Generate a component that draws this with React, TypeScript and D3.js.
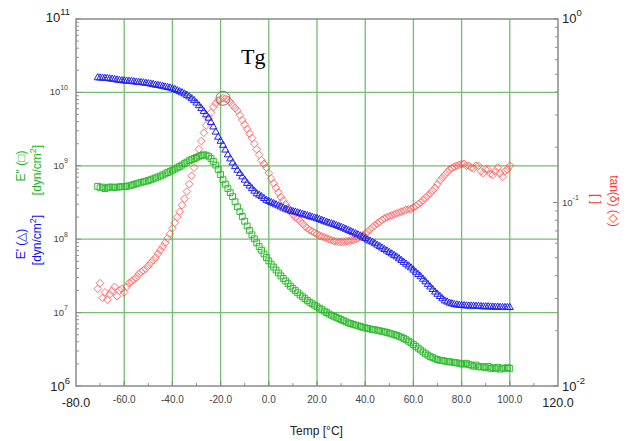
import React from "react";
import * as d3 from "d3";

const W = 626;
const H = 441;

// Temperature samples [°C]
const temps = [
  -71, -70, -69, -68, -67, -66, -65, -64, -63, -62,
  -61, -60, -59, -58, -57, -56, -55, -54, -53, -52,
  -51, -50, -49, -48, -47, -46, -45, -44, -43, -42,
  -41, -40, -39, -38, -37, -36, -35, -34, -33, -32,
  -31, -30, -29, -28, -27, -26, -25, -24, -23, -22,
  -21, -20, -19, -18, -17, -16, -15, -14, -13, -12,
  -11, -10, -9, -8, -7, -6, -5, -4, -3, -2,
  -1, 0, 1, 2, 3, 4, 5, 6, 7, 8,
  9, 10, 11, 12, 13, 14, 15, 16, 17, 18,
  19, 20, 21, 22, 23, 24, 25, 26, 27, 28,
  29, 30, 31, 32, 33, 34, 35, 36, 37, 38,
  39, 40, 41, 42, 43, 44, 45, 46, 47, 48,
  49, 50, 51, 52, 53, 54, 55, 56, 57, 58,
  59, 60, 61, 62, 63, 64, 65, 66, 67, 68,
  69, 70, 71, 72, 73, 74, 75, 76, 77, 78,
  79, 80, 81, 82, 83, 84, 85, 86, 87, 88,
  89, 90, 91, 92, 93, 94, 95, 96, 97, 98,
  99, 100,
];

// log10 of E' storage modulus [dyn/cm2] (triangles, blue)
const storageModulusLog = [
  10.2, 10.197, 10.195, 10.192, 10.19, 10.185, 10.18, 10.175, 10.17, 10.165,
  10.16, 10.158, 10.155, 10.152, 10.15, 10.145, 10.14, 10.137, 10.135, 10.13,
  10.125, 10.12, 10.115, 10.108, 10.1, 10.095, 10.09, 10.083, 10.075, 10.068,
  10.06, 10.05, 10.04, 10.025, 10.01, 9.995, 9.98, 9.96, 9.94, 9.915,
  9.89, 9.855, 9.82, 9.78, 9.74, 9.695, 9.65, 9.59, 9.53, 9.46,
  9.39, 9.335, 9.28, 9.215, 9.15, 9.095, 9.04, 8.99, 8.94, 8.895,
  8.85, 8.805, 8.76, 8.725, 8.69, 8.655, 8.62, 8.6, 8.58, 8.555,
  8.53, 8.515, 8.5, 8.485, 8.47, 8.455, 8.44, 8.425, 8.41, 8.397,
  8.385, 8.377, 8.37, 8.36, 8.35, 8.34, 8.33, 8.32, 8.31, 8.3,
  8.29, 8.28, 8.27, 8.257, 8.245, 8.232, 8.22, 8.21, 8.2, 8.187,
  8.175, 8.162, 8.15, 8.135, 8.12, 8.105, 8.09, 8.075, 8.06, 8.045,
  8.03, 8.01, 7.99, 7.975, 7.96, 7.94, 7.92, 7.9, 7.88, 7.86,
  7.84, 7.82, 7.8, 7.78, 7.76, 7.735, 7.71, 7.685, 7.66, 7.635,
  7.61, 7.58, 7.55, 7.52, 7.49, 7.455, 7.42, 7.385, 7.35, 7.315,
  7.28, 7.25, 7.22, 7.19, 7.16, 7.145, 7.13, 7.12, 7.11, 7.105,
  7.1, 7.097, 7.095, 7.092, 7.09, 7.09, 7.09, 7.087, 7.085, 7.082,
  7.08, 7.08, 7.08, 7.077, 7.075, 7.075, 7.075, 7.072, 7.07, 7.07,
  7.07, 7.07,
];

// log10 of E'' loss modulus [dyn/cm2] (squares, green)
const lossModulusLog = [
  8.72, 8.7, 8.71, 8.69, 8.7, 8.71, 8.71, 8.705, 8.71, 8.712,
  8.715, 8.717, 8.72, 8.727, 8.735, 8.745, 8.755, 8.765, 8.775, 8.782,
  8.79, 8.8, 8.81, 8.822, 8.835, 8.847, 8.86, 8.875, 8.89, 8.907,
  8.925, 8.94, 8.955, 8.972, 8.99, 9.01, 9.03, 9.05, 9.07, 9.085,
  9.1, 9.115, 9.13, 9.14, 9.15, 9.145, 9.13, 9.1, 9.06, 9.01,
  8.95, 8.88, 8.81, 8.75, 8.69, 8.635, 8.58, 8.51, 8.44, 8.375,
  8.31, 8.245, 8.18, 8.12, 8.06, 8.005, 7.95, 7.9, 7.85, 7.8,
  7.75, 7.705, 7.66, 7.62, 7.58, 7.54, 7.5, 7.465, 7.43, 7.395,
  7.36, 7.33, 7.3, 7.27, 7.24, 7.215, 7.19, 7.165, 7.14, 7.12,
  7.1, 7.08, 7.06, 7.04, 7.02, 7.0, 6.98, 6.965, 6.95, 6.935,
  6.92, 6.905, 6.89, 6.875, 6.86, 6.85, 6.84, 6.83, 6.82, 6.81,
  6.8, 6.792, 6.785, 6.777, 6.77, 6.765, 6.76, 6.752, 6.745, 6.737,
  6.73, 6.72, 6.71, 6.7, 6.69, 6.677, 6.665, 6.648, 6.63, 6.61,
  6.59, 6.565, 6.54, 6.515, 6.49, 6.465, 6.44, 6.42, 6.4, 6.385,
  6.37, 6.36, 6.35, 6.345, 6.34, 6.335, 6.33, 6.325, 6.32, 6.315,
  6.31, 6.3, 6.3, 6.31, 6.29, 6.285, 6.27, 6.285, 6.26, 6.265,
  6.26, 6.25, 6.265, 6.24, 6.25, 6.235, 6.255, 6.23, 6.245, 6.24,
  6.25, 6.24,
];

// log10 of tan(delta) (diamonds, red)
const tanDeltaLog = [
  -1.47, -1.44, -1.52, -1.49, -1.53, -1.5, -1.48, -1.46, -1.51, -1.48,
  -1.47, -1.49, -1.46, -1.44, -1.43, -1.42, -1.41, -1.39, -1.38, -1.37,
  -1.36, -1.345, -1.33, -1.315, -1.3, -1.28, -1.26, -1.24, -1.22, -1.195,
  -1.17, -1.14, -1.11, -1.08, -1.05, -1.015, -0.98, -0.94, -0.9, -0.855,
  -0.81, -0.76, -0.71, -0.665, -0.62, -0.58, -0.54, -0.51, -0.48, -0.46,
  -0.445, -0.437, -0.432, -0.434, -0.44, -0.453, -0.47, -0.485, -0.5, -0.525,
  -0.55, -0.575, -0.6, -0.625, -0.65, -0.68, -0.71, -0.74, -0.77, -0.79,
  -0.81, -0.84, -0.87, -0.895, -0.92, -0.945, -0.97, -0.99, -1.01, -1.03,
  -1.05, -1.065, -1.08, -1.09, -1.1, -1.115, -1.13, -1.14, -1.15, -1.157,
  -1.165, -1.172, -1.18, -1.185, -1.19, -1.195, -1.2, -1.205, -1.21, -1.212,
  -1.215, -1.215, -1.215, -1.212, -1.21, -1.207, -1.205, -1.2, -1.195, -1.187,
  -1.18, -1.17, -1.16, -1.147, -1.135, -1.125, -1.115, -1.105, -1.095, -1.087,
  -1.08, -1.075, -1.07, -1.065, -1.06, -1.055, -1.05, -1.045, -1.04, -1.037,
  -1.035, -1.027, -1.02, -1.01, -1.0, -0.987, -0.975, -0.962, -0.95, -0.935,
  -0.92, -0.9, -0.88, -0.865, -0.85, -0.835, -0.82, -0.812, -0.805, -0.8,
  -0.795, -0.79, -0.79, -0.8, -0.8, -0.81, -0.815, -0.8, -0.8, -0.83,
  -0.84, -0.82, -0.82, -0.845, -0.85, -0.83, -0.81, -0.84, -0.86, -0.83,
  -0.82, -0.8,
];

const xTicks = [-80, -60, -40, -20, 0, 20, 40, 60, 80, 100, 120];
const xTickLabels = ["-80.0", "-60.0", "-40.0", "-20.0", "0.0", "20.0", "40.0", "60.0", "80.0", "100.0", "120.0"];
const leftExponents = [6, 7, 8, 9, 10, 11];
const rightExponents = [-2, -1, 0];
const tgTemp = -19;
const tgValueLog = -0.432;

const FONT = "Arial, 'Liberation Sans', Helvetica, sans-serif";
const GRID = "#72bf72";
const FRAME = "#8a8a8a";
const BLUE = "#0c0cf0";
const GREEN = "#1ab41a";
const RED = "#ff3a3a";

export default function App() {
  const L = 76, R = 558, T = 19, B = 386;
  const x = d3.scaleLinear().domain([-80, 120]).range([L, R]);
  const yL = d3.scaleLog().domain([1e6, 1e11]).range([B, T]);
  const yR = d3.scaleLog().domain([0.01, 1]).range([B, T]);
  const p10 = (v: number) => Math.pow(10, v);

  const tri = d3.symbol().type(d3.symbolTriangle).size(22)()!;
  const sq = d3.symbol().type(d3.symbolSquare).size(34)()!;
  const dia = d3.symbol().type(d3.symbolSquare).size(30)()!;

  const leftMinor: number[] = [];
  for (let e = 6; e < 11; e++) for (let m = 2; m <= 9; m++) leftMinor.push(m * Math.pow(10, e));
  const rightMinor: number[] = [];
  for (let e = -2; e < 0; e++) for (let m = 2; m <= 9; m++) rightMinor.push(m * Math.pow(10, e));
  const xMinor = [-70, -50, -30, -10, 10, 30, 50, 70, 90, 110];

  return (
    <svg width={W} height={H} style={{ position: "absolute", left: 0, top: 0, background: "#fff" }} fontFamily={FONT}>
      {/* grid */}
      {xTicks.slice(1, -1).map((t) => (
        <line key={"gx" + t} x1={x(t)} x2={x(t)} y1={T} y2={B} stroke={GRID} strokeWidth={1.3} />
      ))}
      {leftExponents.slice(1, -1).map((e) => (
        <line key={"gy" + e} x1={L} x2={R} y1={yL(p10(e))} y2={yL(p10(e))} stroke={GRID} strokeWidth={1.3} />
      ))}

      {/* series */}
      <g fill="none" stroke={RED} strokeWidth={0.85} opacity={0.78}>
        {temps.map((t, i) => (
          <path key={"r" + i} d={dia} transform={`translate(${x(t)},${yR(p10(tanDeltaLog[i]))}) rotate(45)`} />
        ))}
      </g>
      <g fill="none" stroke={GREEN} strokeWidth={1} opacity={0.9}>
        {temps.map((t, i) => (
          <path key={"g" + i} d={sq} transform={`translate(${x(t)},${yL(p10(lossModulusLog[i]))})`} />
        ))}
      </g>
      <g fill="none" stroke={BLUE} strokeWidth={1} opacity={0.9}>
        {temps.map((t, i) => (
          <path key={"b" + i} d={tri} transform={`translate(${x(t)},${yL(p10(storageModulusLog[i]))})`} />
        ))}
      </g>

      {/* Tg marker */}
      <circle cx={x(tgTemp)} cy={yR(p10(tgValueLog))} r={7} fill="none" stroke="#777" strokeWidth={1} />
      <text x={241} y={64} fontFamily="'Liberation Serif', 'Times New Roman', serif" fontSize={22} fill="#000">Tg</text>

      {/* frame */}
      <rect x={L} y={T} width={R - L} height={B - T} fill="none" stroke={FRAME} strokeWidth={1.5} />

      {/* x ticks */}
      {xTicks.slice(1, -1).map((t) => (
        <line key={"xt" + t} x1={x(t)} x2={x(t)} y1={B} y2={B - 5} stroke={FRAME} strokeWidth={1.2} />
      ))}
      {xMinor.map((t) => (
        <line key={"xm" + t} x1={x(t)} x2={x(t)} y1={B} y2={B - 3} stroke={FRAME} strokeWidth={1} />
      ))}
      {xTicks.map((t, i) => {
        const big = i === 0 || i === xTicks.length - 1;
        return (
          <text key={"xl" + t} x={x(t)} y={big ? 406.5 : 403} textAnchor="middle" fontSize={big ? 12.5 : 10} fill={big ? "#222" : "#444"}>
            {xTickLabels[i]}
          </text>
        );
      })}
      <text x={316.5} y={435} textAnchor="middle" fontSize={12} fill="#222">Temp [°C]</text>

      {/* left ticks */}
      {leftExponents.map((e) => (
        <line key={"lt" + e} x1={L} x2={L + 5} y1={yL(p10(e))} y2={yL(p10(e))} stroke={FRAME} strokeWidth={1} />
      ))}
      {leftMinor.map((v, i) => (
        <line key={"lm" + i} x1={L} x2={L + 3} y1={yL(v)} y2={yL(v)} stroke={FRAME} strokeWidth={0.9} />
      ))}
      {leftExponents.map((e, i) => {
        const big = i === 0 || i === leftExponents.length - 1;
        const yy = yL(p10(e));
        return (
          <text key={"ll" + e} x={big ? 70 : 68} y={yy + (big ? (i === 0 ? 4.5 : 3) : 3)} textAnchor="end" fontSize={big ? 13 : 9.5} fill={big ? "#222" : "#444"}>
            <tspan>10</tspan>
            <tspan dy={big ? -7 : -5.5} fontSize={big ? 9.5 : 7}>{e}</tspan>
          </text>
        );
      })}

      {/* right ticks */}
      {rightExponents.map((e) => (
        <line key={"rt" + e} x1={R - 5} x2={R} y1={yR(p10(e))} y2={yR(p10(e))} stroke={FRAME} strokeWidth={1} />
      ))}
      {rightMinor.map((v, i) => (
        <line key={"rm" + i} x1={R - 3} x2={R} y1={yR(v)} y2={yR(v)} stroke={FRAME} strokeWidth={0.9} />
      ))}
      {rightExponents.map((e) => {
        const big = e !== -1;
        const yy = yR(p10(e));
        return (
          <text key={"rl" + e} x={562} y={yy + (big ? (e === -2 ? 5 : 4) : 3)} textAnchor="start" fontSize={big ? 13 : 9.5} fill={big ? "#222" : "#444"}>
            <tspan>10</tspan>
            <tspan dy={big ? -7 : -5.5} fontSize={big ? 9.5 : 7}>{e}</tspan>
          </text>
        );
      })}

      {/* left axis titles */}
      <g fill={GREEN} fontSize={12}>
        <text transform="translate(24.5,166) rotate(-90)" textAnchor="middle">E" (□)</text>
        <text transform="translate(40.5,170) rotate(-90)" textAnchor="middle">
          [dyn/cm<tspan dy={-5} fontSize={9}>2</tspan><tspan dy={5}>]</tspan>
        </text>
      </g>
      <g fill={BLUE} fontSize={12}>
        <text transform="translate(24.5,244) rotate(-90)" textAnchor="middle">E' (△)</text>
        <text transform="translate(40.5,240) rotate(-90)" textAnchor="middle">
          [dyn/cm<tspan dy={-5} fontSize={9}>2</tspan><tspan dy={5}>]</tspan>
        </text>
      </g>

      {/* right axis titles */}
      <g fill={RED} fontSize={12}>
        <text transform="translate(610,201) rotate(90)" textAnchor="middle">tan(δ) (◇)</text>
        <text transform="translate(592,199) rotate(90)" textAnchor="middle">[ ]</text>
      </g>
    </svg>
  );
}
